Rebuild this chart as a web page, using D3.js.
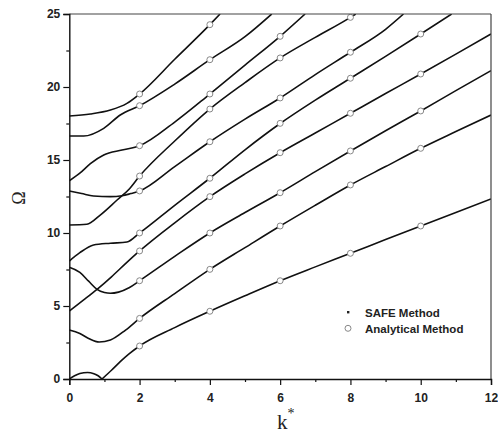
<!DOCTYPE html>
<html><head><meta charset="utf-8">
<script src="https://cdn.jsdelivr.net/npm/d3@7"></script>
<style>body{margin:0;background:#fff}</style>
</head><body><svg id="c" width="498" height="434"></svg>
<script>
// ---- data (k*, Omega) ----
const xTicks = [0, 2, 4, 6, 8, 10, 12];
const yTicks = [0, 5, 10, 15, 20, 25];
const xMinor = [1, 3, 5, 7, 9, 11];
const yMinor = [2.5, 7.5, 12.5, 17.5, 22.5];

const mode1a = [[0,0],[0.15,0.22],[0.3,0.37],[0.52,0.45],[0.7,0.36],[0.82,0.22],[0.93,0]];
const mode1b = [[0.93,0],[1.2,0.6],[1.45,1.19],[1.7,1.72],[2,2.26],[3,3.52],[4,4.64],[5,5.7],[6,6.73],[7,7.68],[8,8.61],[9,9.55],[10,10.48],[11,11.4],[12,12.33]];
const mode2  = [[0,3.36],[0.3,3.12],[0.55,2.78],[0.85,2.53],[1.17,2.67],[1.6,3.35],[2,4.15],[3,5.85],[4,7.51],[5,9.0],[6,10.48],[7,11.9],[8,13.29],[9,14.55],[10,15.8],[11,16.95],[12,18.08]];
const mode3  = [[0,4.66],[0.4,5.4],[0.79,6.14],[1.2,7.0],[1.6,7.9],[2,8.77],[3,10.7],[4,12.49],[5,14.05],[6,15.5],[7,16.85],[8,18.2],[9,19.55],[10,20.89],[11,22.25],[12,23.63]];
const mode4  = [[0,7.65],[0.3,7.3],[0.55,6.7],[0.79,6.14],[1.0,5.92],[1.17,5.87],[1.4,5.95],[1.7,6.25],[2,6.73],[3,8.4],[4,10.0],[5,11.4],[6,12.76],[7,14.2],[8,15.62],[9,17.0],[10,18.36],[11,19.75],[12,21.12]];
const mode5  = [[0,8.08],[0.3,8.65],[0.69,9.18],[1.17,9.3],[1.64,9.38],[2,10.0],[3,11.9],[4,13.75],[5,15.7],[6,17.5],[7,19.1],[8,20.6],[9,22.1],[10,23.63],[10.88,25]];
const mode6  = [[0,10.55],[0.5,10.6],[0.88,11.23],[1.36,12.26],[1.7,13.0],[2,13.9],[3,16.3],[4,18.49],[5,20.3],[6,21.99],[7,23.4],[8,24.77],[8.15,25]];
const mode7  = [[0,12.88],[0.35,12.7],[0.69,12.53],[1.17,12.49],[1.5,12.55],[1.75,12.7],[2,12.88],[3,14.55],[4,16.25],[5,17.8],[6,19.25],[7,20.85],[8,22.38],[9,23.95],[9.51,25]];
const mode8  = [[0,13.58],[0.3,14.1],[0.6,14.75],[0.98,15.34],[1.5,15.68],[2,15.98],[3,17.6],[4,19.52],[5,21.5],[6,23.47],[6.71,25]];
const mode9  = [[0,16.64],[0.41,16.64],[0.98,17.17],[1.45,18.08],[2,18.72],[3,20.2],[4,21.87],[5,23.45],[5.76,25]];
const mode10 = [[0,18.01],[0.6,18.15],[1.17,18.42],[1.64,18.88],[2,19.52],[3,21.9],[4,24.27],[4.29,25]];

const analyticK    = [2, 4, 6, 8, 10];
const analyticAt2  = [2.26,4.15,6.73,8.77,10.0,12.88,13.9,15.98,18.72,19.52];
const analyticAt4  = [4.64,7.51,10.0,12.49,13.75,16.25,18.49,19.52,21.87,24.27];
const analyticAt6  = [6.73,10.48,12.76,15.5,17.51,19.25,21.99,23.47];
const analyticAt8  = [8.61,13.29,15.62,18.2,20.6,22.38,24.77];
const analyticAt10 = [10.48,15.8,18.36,20.89,23.63];

const legendLabels = ["SAFE Method", "Analytical Method"];

// ---- drawing ----
const svg = d3.select("#c");
const x = d3.scaleLinear().domain([0, 12]).range([69.3, 491]);
const y = d3.scaleLinear().domain([0, 25]).range([379, 14]);

svg.append("clipPath").attr("id","plot").append("rect")
  .attr("x", x(0)).attr("y", y(25)).attr("width", x(12)-x(0)).attr("height", y(0)-y(25));

const safeCurves = [mode1a, mode1b, mode2, mode3, mode4, mode5, mode6, mode7, mode8, mode9, mode10];
const line = d3.line().x(d => x(d[0])).y(d => y(d[1])).curve(d3.curveMonotoneX);

const g = svg.append("g").attr("clip-path","url(#plot)");
g.selectAll("path.safe").data(safeCurves).join("path")
  .attr("class","safe").attr("d", line)
  .attr("fill","none").attr("stroke","#111").attr("stroke-width",1.6);

const analyticSets = [analyticAt2, analyticAt4, analyticAt6, analyticAt8, analyticAt10];
const pts = [];
analyticSets.forEach((arr, i) => arr.forEach(v => pts.push([analyticK[i], v])));
g.selectAll("circle.ana").data(pts).join("circle")
  .attr("class","ana").attr("cx", d => x(d[0])).attr("cy", d => y(d[1])).attr("r", 3)
  .attr("fill","#fff").attr("stroke","#888").attr("stroke-width",1);

// frame (top/right)
svg.append("line").attr("x1",x(0)).attr("x2",x(12)).attr("y1",y(25)).attr("y2",y(25)).attr("stroke","#444").attr("stroke-width",1.2);
svg.append("line").attr("x1",x(12)).attr("x2",x(12)).attr("y1",y(25)).attr("y2",y(0)).attr("stroke","#444").attr("stroke-width",1.2);

const font = "'Liberation Sans', Arial, sans-serif";
// axes
svg.append("g").attr("transform",`translate(0,${y(0)})`)
  .call(d3.axisBottom(x).tickValues(xTicks).tickFormat(d3.format("d")).tickSize(6).tickPadding(8));
svg.append("g").attr("transform",`translate(0,${y(0)})`)
  .call(d3.axisBottom(x).tickValues(xMinor).tickFormat("").tickSize(3))
  .select(".domain").remove();
svg.append("g").attr("transform",`translate(${x(0)},0)`)
  .call(d3.axisLeft(y).tickValues(yTicks).tickFormat(d3.format("d")).tickSize(6).tickPadding(3));
svg.append("g").attr("transform",`translate(${x(0)},0)`)
  .call(d3.axisLeft(y).tickValues(yMinor).tickFormat("").tickSize(3))
  .select(".domain").remove();
svg.selectAll(".domain").attr("stroke","#111").attr("stroke-width",1.4);
svg.selectAll(".tick line").attr("stroke","#111").attr("stroke-width",1.2);
svg.selectAll(".tick text").attr("font-family",font).attr("font-weight","bold")
  .attr("font-size",12).attr("fill","#222");

// axis titles
svg.append("text").attr("transform","translate(25,198) rotate(-90)")
  .attr("text-anchor","middle").attr("font-family","'Liberation Serif','Times New Roman',serif")
  .attr("font-size",18).attr("fill","#222").text("Ω");
const kt = svg.append("text").attr("x",277).attr("y",429)
  .attr("font-family","'Liberation Serif','Times New Roman',serif").attr("font-size",21).attr("fill","#222");
kt.append("tspan").text("k");
kt.append("tspan").attr("font-size",14).attr("dy",-11).text("*");

// legend
const lg = svg.append("g");
lg.append("rect").attr("x",347).attr("y",311).attr("width",2.4).attr("height",2.4).attr("fill","#222");
lg.append("circle").attr("cx",348).attr("cy",328.3).attr("r",3).attr("fill","#fff").attr("stroke","#888");
lg.selectAll("text").data(legendLabels).join("text")
  .attr("x",365).attr("y",(d,i)=>316.5+i*16)
  .attr("font-family",font).attr("font-weight","bold").attr("font-size",11.5).attr("fill","#222")
  .text(d=>d);
</script></body></html>
